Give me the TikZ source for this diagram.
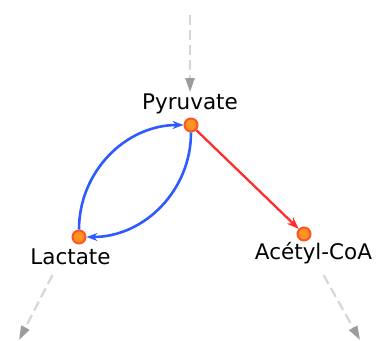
\documentclass[tikz,border=0pt]{standalone}
\usepackage{fontspec}
\setmainfont{DejaVu Sans}
\usetikzlibrary{arrows.meta}

\definecolor{dotfill}{HTML}{FF9422}
\definecolor{dotline}{HTML}{FF5522}
\definecolor{flowblue}{HTML}{2D5BFF}
\definecolor{flowred}{HTML}{FF2E2E}
\definecolor{fluxgray}{HTML}{D6D6D6}
\definecolor{tipgray}{HTML}{9C9C9C}

\begin{document}
\begin{tikzpicture}[x=1pt,y=1pt,
        metab/.style={circle,fill=dotfill,draw=dotline,line width=2pt,minimum size=13pt,inner sep=0pt},
        metlabel/.style={font=\fontsize{21.5}{26}\selectfont,inner sep=2pt,anchor=base},
        flux/.style={fluxgray,line width=2.2pt,dash pattern=on 10pt off 5pt,-{Triangle[length=14pt,width=9pt,color=tipgray]}},
        blueflow/.style={flowblue,line width=2.6pt,-{Stealth[length=11pt,width=8pt]}},
        redflow/.style={flowred,line width=2.3pt,-{Stealth[length=12pt,width=9pt]}}]
            \useasboundingbox (0,0) rectangle (385,340);

            \node[metab] (pyr) at (191,215) {};
            \node[metab] (lac) at (79,103) {};
            \node[metab] (aco) at (304,106) {};

            \node[metlabel] (pyrname) at (190,230) {Pyruvate};
            \node[metlabel] (lacname) at (70.5,76) {Lactate};
            \node[metlabel] (aconame) at (313.5,81) {Acétyl-CoA};

            \coordinate (pyrin) at (190,325);
            \coordinate (lacout) at (52.5,65);
            \coordinate (lacend) at (19,0);
            \coordinate (acoout) at (323.5,65);
            \coordinate (acoend) at (360,0);

            \draw[flux] (pyrin) -- (pyrname.north);
            \draw[flux] (lacout) -- (lacend);
            \draw[flux] (acoout) -- (acoend);

            \draw[blueflow] (lac) to[bend left=45] (pyr);
            \draw[blueflow] (pyr) to[bend left=45] (lac);
            \draw[redflow] (pyr) -- (aco);
        \end{tikzpicture}
\end{document}
